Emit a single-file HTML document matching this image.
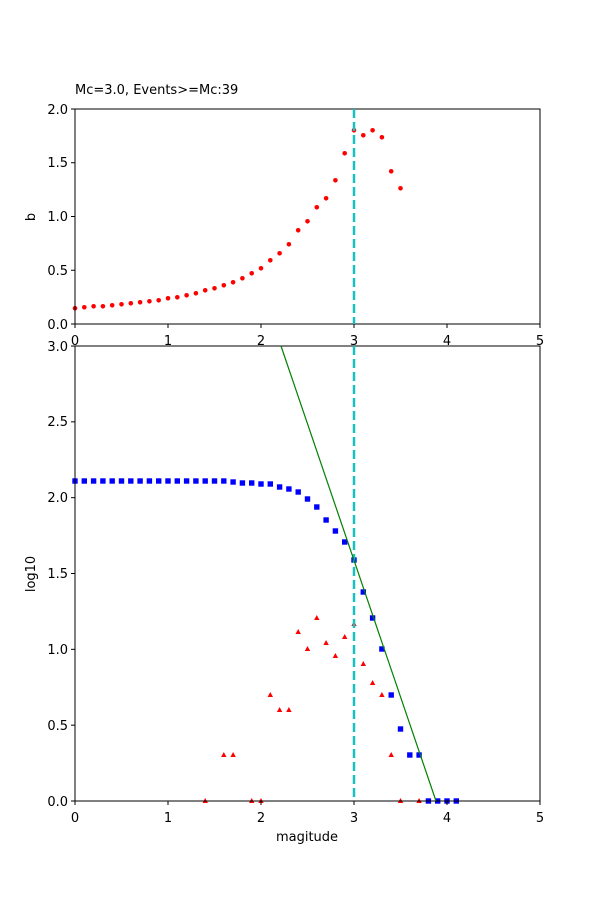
<!DOCTYPE html>
<html><head><meta charset="utf-8"><style>
body{margin:0;background:#fff}
text{font-family:"DejaVu Sans","Liberation Sans",sans-serif;font-size:13px;fill:#000}
</style></head><body>
<svg id="s" width="600" height="900" xmlns="http://www.w3.org/2000/svg">
<rect width="600" height="900" fill="#fff"/>
<g id="pts"></g>
<rect x="75" y="109" width="465" height="215" fill="none" stroke="#000" stroke-width="1"/>
<rect x="75" y="346" width="465" height="455" fill="none" stroke="#000" stroke-width="1"/>
<line x1="354" y1="109" x2="354" y2="324" stroke="#1ABFBF" stroke-width="2.5" stroke-dasharray="9,4"/>
<line x1="354" y1="346" x2="354" y2="801" stroke="#1ABFBF" stroke-width="2.5" stroke-dasharray="9,4"/>
<line x1="281" y1="346" x2="436" y2="801" stroke="green" stroke-width="1.2"/>
<g id="ticks" stroke="#000"></g>
<text x="75" y="94">Mc=3.0, Events&gt;=Mc:39</text>
<g text-anchor="end">
<text x="68" y="329">0.0</text><text x="68" y="275">0.5</text><text x="68" y="221">1.0</text><text x="68" y="167">1.5</text><text x="68" y="114">2.0</text>
<text x="68" y="806">0.0</text><text x="68" y="730">0.5</text><text x="68" y="654">1.0</text><text x="68" y="578">1.5</text><text x="68" y="502">2.0</text><text x="68" y="426">2.5</text><text x="68" y="351">3.0</text>
</g>
<g text-anchor="middle">
<text x="75" y="345">0</text><text x="168" y="345">1</text><text x="261" y="345">2</text><text x="354" y="345">3</text><text x="447" y="345">4</text><text x="540" y="345">5</text>
<text x="75" y="822">0</text><text x="168" y="822">1</text><text x="261" y="822">2</text><text x="354" y="822">3</text><text x="447" y="822">4</text><text x="540" y="822">5</text>
<text x="307" y="841">magitude</text>
<text transform="translate(35,217) rotate(-90)">b</text>
<text transform="translate(35,574) rotate(-90)">log10</text>
</g>
</svg>
<script>
(function(){
var ns="http://www.w3.org/2000/svg",P=document.getElementById("pts"),T=document.getElementById("ticks");
function el(n,a,p){var e=document.createElementNS(ns,n);for(var k in a)e.setAttribute(k,a[k]);(p||P).appendChild(e);}
function X(m){return 75+93*m}
var topv=[308.3,307.3,306.3,306.3,305.3,304.3,303.3,302.3,301.3,300.3,298.3,297.3,295.3,293.3,290.3,288.3,285.3,282.3,278.3,273.3,268.3,260.3,253.3,244.3,230.3,221.3,207.3,198.3,180.3,153.3,130.3,135.3,130.3,137.3,171.3,188.3];
topv.forEach(function(y,i){el("circle",{cx:X(i/10),cy:y,r:2.3,fill:"red"})});
var blue=[481,481,481,481,481,481,481,481,481,481,481,481,481,481,481,481,481,482,483,483,484,484,487,489,492,499,507,520,531,542,560,592,618,649,695,729,755,755,801,801,801,801];
blue.forEach(function(y,i){el("rect",{x:X(i/10)-2.7,y:y-2.7,width:5.4,height:5.4,fill:"blue"})});
var tri=[[1.4,801],[1.6,755],[1.7,755],[1.9,801],[2.0,801],[2.1,695],[2.2,710],[2.3,710],[2.4,632],[2.5,649],[2.6,618],[2.7,643],[2.8,656],[2.9,637],[3.0,624],[3.1,664],[3.2,683],[3.3,695],[3.4,755],[3.5,801],[3.7,801]];
tri.forEach(function(t){var x=X(t[0]),y=t[1];el("polygon",{points:(x-2.7)+","+(y+2)+" "+(x+2.7)+","+(y+2)+" "+x+","+(y-3),fill:"red"})});
for(var i=0;i<=5;i++){var x=X(i);el("line",{x1:x,y1:324,x2:x,y2:328},T);el("line",{x1:x,y1:801,x2:x,y2:805},T);}
[324,270.25,216.5,162.75,109].forEach(function(y){el("line",{x1:71,y1:y,x2:75,y2:y},T)});
for(var j=0;j<=6;j++){var y=801-75.83*j;el("line",{x1:71,y1:y,x2:75,y2:y},T)}
})();
</script>
</body></html>
